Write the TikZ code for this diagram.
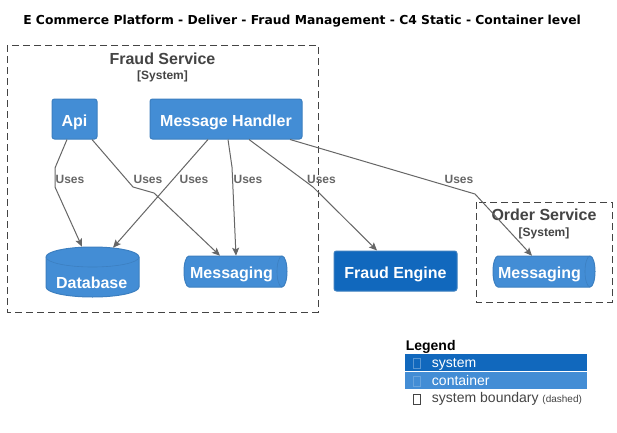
\documentclass[tikz,border=0pt]{standalone}
\usepackage{fontspec}
\setmainfont{Liberation Sans}
\newfontfamily\titlefont{DejaVu Sans}
\usetikzlibrary{arrows.meta,calc}
\definecolor{cont}{HTML}{438DD5}
\definecolor{sys}{HTML}{1168BD}
\definecolor{boxb}{HTML}{3C7FC0}
\definecolor{bnd}{HTML}{444444}
\definecolor{rel}{HTML}{666666}
\begin{document}
\begin{tikzpicture}[x=0.75pt,y=-0.75pt,
  boundary/.style={draw=bnd, line width=0.75pt, dash pattern=on 5.25pt off 3pt},
  bname/.style={text=bnd, font=\bfseries\fontsize{12}{14}\selectfont, anchor=base, inner sep=0pt},
  btype/.style={text=bnd, font=\bfseries\fontsize{9}{11}\selectfont, anchor=base, inner sep=0pt},
  elem/.style={draw=boxb, line width=0.75pt, rounded corners=1.9pt, inner sep=0pt,
    text=white, font=\bfseries\fontsize{12}{14}\selectfont, text height=11.2pt, text depth=0pt},
  contbox/.style={elem, fill=cont},
  sysbox/.style={elem, fill=sys},
  cylshape/.style={fill=cont, draw=boxb, line width=0.75pt},
  cylfront/.style={draw=boxb, line width=0.45pt},
  holder/.style={inner sep=0pt, draw=none},
  wtext/.style={text=white, font=\bfseries\fontsize{12}{14}\selectfont, anchor=base, inner sep=0pt},
  rel/.style={draw=rel, line width=0.75pt, -{Stealth[length=6pt,width=5.25pt,inset=1.2pt]}},
  uses/.style={text=rel, font=\bfseries\fontsize{9}{11}\selectfont, anchor=base, inner sep=0pt},
  legrow/.style={inner sep=0pt, minimum width=136.5pt, minimum height=12.75pt, anchor=north west},
  legtext/.style={font=\fontsize{10.5}{12}\selectfont, anchor=base west, inner sep=0pt},
  tofu/.style={line width=0.6pt}
]
\fill[white] (0,0) rectangle (617,432);
\useasboundingbox (0,0) rectangle (617,432);

% title
\node[anchor=base west, inner sep=0pt, font=\titlefont\bfseries\fontsize{9.25}{11}\selectfont] (title) at (23,24)
  {E Commerce Platform - Deliver - Fraud Management - C4 Static - Container level};

% boundaries
\draw[boundary] (7,45) rectangle (318,312);
\node[bname] (fsname) at (162.5,64) {Fraud Service};
\node[btype] (fstype) at (162.5,79) {[System]};
\draw[boundary] (476,202) rectangle (612,302);
\node[bname] (osname) at (544,220.7) {Order Service};
\node[btype] (ostype) at (544,236.5) {[System]};

% boxes
\node[contbox, minimum width=33.75pt, minimum height=30pt] (api) at (74.5,119) {Api};
\node[contbox, minimum width=114pt, minimum height=30pt] (mh) at (226,119) {Message Handler};
\node[sysbox, minimum width=92.25pt, minimum height=30pt] (fe) at (395.5,271) {Fraud Engine};

% database cylinder
\node[holder, minimum width=69.75pt, minimum height=37.5pt] (db) at (92.5,272) {};
\path[cylshape] (46,257) -- (46,287) arc[start angle=180, end angle=360, x radius=34.875pt, y radius=7.5pt]
  -- (139,257) arc[start angle=0, end angle=180, x radius=34.875pt, y radius=7.5pt] -- cycle;
\draw[cylfront] (46,257) arc[start angle=180, end angle=360, x radius=34.875pt, y radius=7.5pt];
\node[wtext] (dbtext) at (91.7,288.3) {Database};

% messaging queue (fraud service)
\node[holder, minimum width=77.25pt, minimum height=23.25pt] (mq1) at (235.5,271.5) {};
\path[cylshape] (189,256) -- (282,256) arc[start angle=90, end angle=-90, x radius=3.75pt, y radius=11.625pt]
  -- (189,287) arc[start angle=270, end angle=90, x radius=3.75pt, y radius=11.625pt] -- cycle;
\draw[cylfront] (282,256) arc[start angle=90, end angle=270, x radius=3.75pt, y radius=11.625pt];
\node[wtext] (mq1text) at (231.5,278.3) {Messaging};

% messaging queue (order service)
\node[holder, minimum width=76.5pt, minimum height=23.25pt] (mq2) at (544,271.5) {};
\path[cylshape] (498,256) -- (590,256) arc[start angle=90, end angle=-90, x radius=3.75pt, y radius=11.625pt]
  -- (498,287) arc[start angle=270, end angle=90, x radius=3.75pt, y radius=11.625pt] -- cycle;
\draw[cylfront] (590,256) arc[start angle=90, end angle=270, x radius=3.75pt, y radius=11.625pt];
\node[wtext] (mq2text) at (539.5,278.3) {Messaging};

% bend points
\coordinate (b1a) at (55,168);
\coordinate (b1b) at (55,187);
\coordinate (b2a) at (133,187);
\coordinate (b2b) at (154,193);
\coordinate (b4a) at (232,167);
\coordinate (b5a) at (313,187);
\coordinate (b6a) at (475,194);

% connectors
\draw[rel] ($(api.south)+(-7.5,0)$) -- (b1a) -- (b1b) -- ($(db.north)+(-10.5,0)$)
  node[uses] at (70,183.3) {Uses};
\draw[rel] ($(api.south)+(17.5,0)$) -- (b2a) -- (b2b) -- ($(mq1.north)+(-15.5,0)$)
  node[uses] at (148,183.3) {Uses};
\draw[rel] ($(mh.south)+(-18,0)$) -- ($(db.north)+(20.5,1)$)
  node[uses] at (194,183.3) {Uses};
\draw[rel] ($(mh.south)+(2,0)$) -- (b4a) -- ($(mq1.north)+(0.5,0)$)
  node[uses] at (248,183.3) {Uses};
\draw[rel] ($(mh.south)+(23,0)$) -- (b5a) -- ($(fe.north)+(-18.5,0)$)
  node[uses] at (321.5,183.3) {Uses};
\draw[rel] ($(mh.south)+(64,0)$) -- (b6a) -- ($(mq2.north)+(-12,0)$)
  node[uses] at (459,183.3) {Uses};

% legend
\node[anchor=base west, inner sep=0pt, font=\bfseries\fontsize{10.5}{12}\selectfont] (legend) at (405.5,350) {Legend};
\node[legrow, fill=sys] (lg1) at (405,354) {};
\node[legrow, fill=cont] (lg2) at (405,371.5) {};
\node[legrow] (lg3) at (405,389) {};
\draw[tofu, draw=white!30!sys] (413.5,358) rectangle (420,368);
\draw[tofu, draw=white!20!cont] (413.5,376) rectangle (420,386);
\draw[tofu, draw=bnd] (413.5,394) rectangle (420,404);
\node[legtext, text=white] (lt1) at (431.7,367) {system};
\node[legtext, text=white] (lt2) at (431.7,385) {container};
\node[legtext, text=bnd] (lt3) at (431.7,402.7) {system boundary {\fontsize{7.5}{9}\selectfont(dashed)}};
\end{tikzpicture}
\end{document}
